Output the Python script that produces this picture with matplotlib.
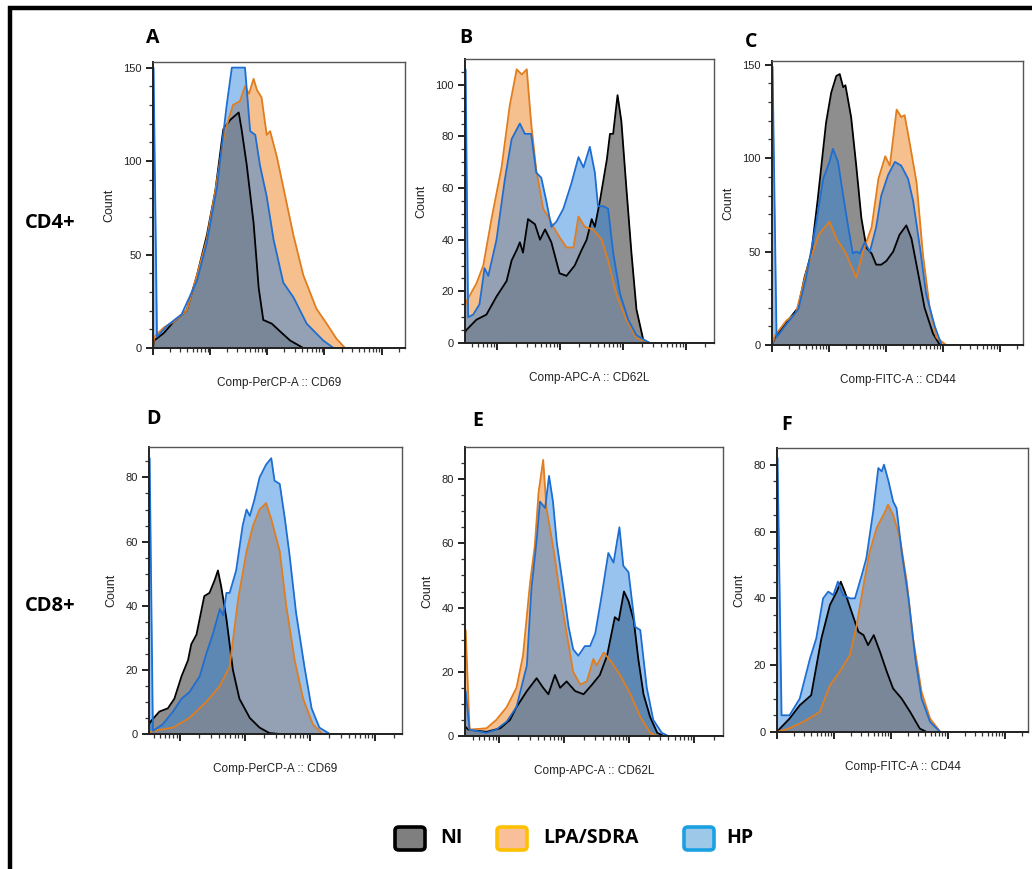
import matplotlib
matplotlib.use("Agg")
import matplotlib.pyplot as plt
import numpy as np
from matplotlib.patches import FancyBboxPatch, Rectangle

# x in decades of the (compensated) fluorescence axis, y = event count
# ---- A: CD4+ CD69
A_NI_X = [0.0, 0.02, 0.19, 0.36, 0.59, 0.77, 0.94, 1.09, 1.23, 1.35, 1.5, 1.55, 1.64, 1.76, 1.85, 1.93, 2.08, 2.22, 2.4, 2.63, 4.41]
A_NI_Y = [0, 4, 8, 14, 20, 39, 60, 84, 117, 122, 126, 117, 98, 67, 32, 15, 13, 9, 4, 0, 0]
A_LPA_X = [0.0, 0.02, 0.19, 0.36, 0.59, 0.77, 0.94, 1.09, 1.25, 1.4, 1.52, 1.61, 1.68, 1.76, 1.82, 1.9, 1.99, 2.05, 2.17, 2.28, 2.46, 2.63, 2.86, 3.04, 3.21, 3.36, 4.41]
A_LPA_Y = [0, 6, 11, 14, 20, 39, 58, 84, 115, 130, 132, 140, 136, 144, 138, 134, 114, 116, 102, 86, 60, 39, 21, 13, 5, 0, 0]
A_HP_X = [0.0, 0.01, 0.07, 0.25, 0.5, 0.77, 0.94, 1.12, 1.29, 1.38, 1.61, 1.7, 1.79, 1.87, 1.99, 2.11, 2.28, 2.46, 2.69, 2.98, 3.16, 4.41]
A_HP_Y = [150, 150, 6, 12, 18, 36, 56, 86, 130, 150, 150, 116, 114, 98, 81, 58, 35, 27, 13, 4, 0, 0]

# ---- B: CD4+ CD62L
B_NI_X = [0.49, 0.51, 0.67, 0.83, 0.99, 1.15, 1.23, 1.31, 1.36, 1.41, 1.49, 1.6, 1.68, 1.76, 1.86, 1.99, 2.1, 2.23, 2.34, 2.42, 2.5, 2.55, 2.63, 2.74, 2.79, 2.84, 2.91, 2.97, 3.05, 3.13, 3.21, 3.32, 3.42, 4.44]
B_NI_Y = [4, 5, 9, 11, 18, 24, 32, 36, 39, 35, 48, 46, 40, 44, 39, 27, 26, 30, 36, 40, 48, 45, 55, 71, 81, 81, 96, 86, 60, 35, 13, 1, 0, 0]
B_LPA_X = [0.49, 0.51, 0.67, 0.78, 0.91, 1.07, 1.2, 1.31, 1.39, 1.47, 1.54, 1.62, 1.73, 1.81, 1.89, 1.99, 2.1, 2.21, 2.29, 2.39, 2.52, 2.66, 2.76, 2.89, 3.05, 3.21, 3.42, 4.44]
B_LPA_Y = [14, 16, 23, 30, 48, 68, 92, 106, 104, 106, 85, 67, 52, 49, 45, 41, 37, 37, 49, 45, 44, 40, 32, 19, 9, 2, 0, 0]
B_HP_X = [0.49, 0.5, 0.54, 0.62, 0.72, 0.8, 0.86, 0.99, 1.12, 1.23, 1.36, 1.44, 1.54, 1.62, 1.7, 1.78, 1.86, 1.94, 2.05, 2.18, 2.29, 2.37, 2.47, 2.55, 2.6, 2.68, 2.76, 2.84, 2.95, 3.08, 3.21, 3.42, 4.44]
B_HP_Y = [106, 106, 10, 11, 15, 29, 26, 40, 63, 79, 85, 81, 81, 66, 64, 55, 45, 47, 52, 62, 72, 68, 76, 66, 53, 53, 52, 35, 19, 9, 3, 0, 0]

# ---- C: CD4+ CD44
C_NI_X = [0.0, 0.05, 0.25, 0.46, 0.57, 0.69, 0.8, 0.95, 1.04, 1.13, 1.19, 1.25, 1.29, 1.39, 1.48, 1.57, 1.66, 1.75, 1.83, 1.92, 2.01, 2.13, 2.24, 2.36, 2.45, 2.57, 2.68, 2.83, 2.95, 4.41]
C_NI_Y = [0, 4, 12, 20, 36, 49, 77, 119, 135, 144, 145, 138, 139, 122, 96, 68, 52, 49, 43, 43, 45, 50, 59, 64, 57, 38, 20, 6, 0, 0]
C_LPA_X = [0.0, 0.05, 0.25, 0.42, 0.62, 0.82, 1.01, 1.13, 1.3, 1.48, 1.6, 1.75, 1.87, 1.99, 2.07, 2.19, 2.27, 2.33, 2.42, 2.54, 2.65, 2.77, 2.89, 3.06, 4.41]
C_LPA_Y = [0, 5, 13, 17, 41, 59, 66, 57, 49, 36, 50, 63, 89, 101, 96, 126, 122, 123, 108, 87, 49, 20, 4, 0, 0]
C_HP_X = [0.0, 0.01, 0.08, 0.25, 0.46, 0.6, 0.78, 0.9, 1.01, 1.07, 1.16, 1.25, 1.34, 1.42, 1.48, 1.54, 1.63, 1.72, 1.83, 1.92, 2.04, 2.16, 2.27, 2.39, 2.48, 2.6, 2.71, 2.86, 2.98, 4.41]
C_HP_Y = [149, 149, 4, 11, 19, 36, 66, 89, 98, 105, 98, 80, 63, 49, 50, 49, 55, 50, 63, 80, 91, 98, 96, 89, 77, 52, 27, 10, 0, 0]

# ---- D: CD8+ CD69
D_NI_X = [0.53, 0.56, 0.69, 0.82, 0.92, 1.03, 1.13, 1.18, 1.26, 1.38, 1.46, 1.54, 1.59, 1.64, 1.72, 1.82, 1.92, 2.08, 2.23, 2.38, 2.54, 4.42]
D_NI_Y = [3, 4, 7, 8, 11, 18, 23, 28, 31, 43, 44, 48, 51, 46, 36, 20, 11, 5, 2, 0.3, 0, 0]
D_LPA_X = [0.53, 0.6, 0.9, 1.15, 1.41, 1.62, 1.77, 1.9, 2.03, 2.13, 2.23, 2.33, 2.41, 2.54, 2.64, 2.77, 2.9, 3.05, 3.2, 4.42]
D_LPA_Y = [0.5, 1, 2, 5, 10, 15, 21, 42, 57, 65, 70, 72, 67, 57, 40, 23, 11, 3, 0, 0]
D_HP_X = [0.53, 0.54, 0.59, 0.74, 0.9, 1.03, 1.15, 1.31, 1.41, 1.51, 1.62, 1.67, 1.72, 1.77, 1.87, 1.97, 2.03, 2.08, 2.15, 2.23, 2.33, 2.41, 2.46, 2.54, 2.62, 2.69, 2.79, 2.92, 3.03, 3.15, 3.31, 4.42]
D_HP_Y = [86, 86, 1, 3, 7, 11, 13, 18, 25, 31, 39, 37, 44, 44, 51, 65, 70, 68, 73, 80, 84, 86, 79, 78, 67, 56, 38, 21, 8, 2, 0, 0]

# ---- E: CD8+ CD62L
E_NI_X = [0.48, 0.53, 0.81, 1.02, 1.17, 1.27, 1.43, 1.58, 1.68, 1.76, 1.86, 1.94, 2.04, 2.17, 2.3, 2.43, 2.55, 2.66, 2.78, 2.84, 2.92, 2.99, 3.07, 3.14, 3.22, 3.32, 3.43, 3.53, 4.44]
E_NI_Y = [3, 2, 1.3, 2.4, 5, 9, 14, 18, 15, 13, 19, 15, 17, 14, 13, 16, 19, 25, 37, 36, 45, 42, 36, 24, 13, 6, 1, 0, 0]
E_LPA_X = [0.48, 0.49, 0.55, 0.81, 0.96, 1.12, 1.27, 1.37, 1.48, 1.55, 1.61, 1.68, 1.73, 1.84, 1.94, 2.04, 2.14, 2.25, 2.35, 2.45, 2.5, 2.61, 2.73, 2.86, 3.02, 3.17, 3.32, 3.43, 4.44]
E_LPA_Y = [33, 33, 2, 2.4, 5, 9, 15, 25, 48, 59, 76, 86, 71, 58, 44, 32, 20, 16, 17, 24, 22, 26, 23, 19, 13, 6, 1, 0, 0]
E_HP_X = [0.48, 0.49, 0.55, 0.81, 0.96, 1.12, 1.27, 1.43, 1.5, 1.58, 1.63, 1.71, 1.77, 1.83, 1.89, 1.99, 2.07, 2.14, 2.22, 2.32, 2.4, 2.48, 2.58, 2.68, 2.76, 2.85, 2.91, 2.99, 3.09, 3.17, 3.27, 3.37, 3.5, 3.6, 4.44]
E_HP_Y = [14, 14, 2, 1, 2, 4.5, 9, 22, 46, 61, 73, 71, 81, 73, 60, 46, 34, 27, 25, 28, 28, 32, 44, 57, 54, 65, 53, 51, 34, 33, 15, 5, 1, 0, 0]

# ---- F: CD8+ CD44
F_NI_X = [0.0, 0.05, 0.22, 0.4, 0.6, 0.78, 0.93, 1.05, 1.12, 1.19, 1.31, 1.43, 1.52, 1.6, 1.7, 1.81, 1.93, 2.04, 2.19, 2.34, 2.51, 2.63, 4.41]
F_NI_Y = [0, 1, 4, 8, 11, 28, 38, 42, 45, 42, 36, 30, 29, 26, 29, 24, 18, 13, 10, 6, 1, 0, 0]
F_LPA_X = [0.0, 0.2, 0.46, 0.75, 0.93, 1.1, 1.28, 1.4, 1.51, 1.63, 1.75, 1.9, 1.95, 2.04, 2.16, 2.28, 2.39, 2.54, 2.69, 2.87, 4.41]
F_LPA_Y = [0, 1, 3, 6, 14, 18, 23, 32, 43, 54, 61, 66, 68, 65, 58, 45, 28, 12, 4, 0, 0]
F_HP_X = [0.0, 0.01, 0.08, 0.22, 0.4, 0.58, 0.69, 0.81, 0.9, 0.99, 1.07, 1.16, 1.28, 1.37, 1.49, 1.57, 1.69, 1.78, 1.84, 1.88, 1.96, 2.04, 2.1, 2.19, 2.31, 2.43, 2.54, 2.69, 2.87, 4.41]
F_HP_Y = [82, 82, 5, 5, 10, 22, 28, 40, 42, 41, 45, 41, 40, 40, 47, 52, 66, 79, 78, 80, 75, 69, 67, 54, 40, 22, 10, 3, 0, 0]

PANELS = ["A", "B", "C", "D", "E", "F"]
XLABELS = ["Comp-PerCP-A :: CD69", "Comp-APC-A :: CD62L", "Comp-FITC-A :: CD44",
           "Comp-PerCP-A :: CD69", "Comp-APC-A :: CD62L", "Comp-FITC-A :: CD44"]
XLIMS = [(0, 4.41), (0.49, 4.44), (0, 4.41), (0.53, 4.42), (0.48, 4.44), (0, 4.41)]
YLIMS = [153, 110, 152, 89.5, 90, 85]
YMAJOR = [50, 20, 50, 20, 20, 20]
YMINOR = [10, 5, 10, 5, 5, 5]
ROW_LABELS = ["CD4+", "CD8+"]
GROUPS = ["NI", "LPA/SDRA", "HP"]

DATA = {
    "A": [(A_NI_X, A_NI_Y), (A_LPA_X, A_LPA_Y), (A_HP_X, A_HP_Y)],
    "B": [(B_NI_X, B_NI_Y), (B_LPA_X, B_LPA_Y), (B_HP_X, B_HP_Y)],
    "C": [(C_NI_X, C_NI_Y), (C_LPA_X, C_LPA_Y), (C_HP_X, C_HP_Y)],
    "D": [(D_NI_X, D_NI_Y), (D_LPA_X, D_LPA_Y), (D_HP_X, D_HP_Y)],
    "E": [(E_NI_X, E_NI_Y), (E_LPA_X, E_LPA_Y), (E_HP_X, E_HP_Y)],
    "F": [(F_NI_X, F_NI_Y), (F_LPA_X, F_LPA_Y), (F_HP_X, F_HP_Y)],
}

# fill colour, alpha, edge colour per group (drawn in this order)
FILL = [("#1e1e1e", 0.5), ("#f08c32", 0.55), ("#2a82de", 0.48)]
EDGE = ["#000000", "#e07d1e", "#1e6ed2"]
LEG_FACE = ["#7f7f7f", "#f8bf98", "#9dc8e8"]
LEG_EDGE = ["#000000", "#ffc000", "#1ba1e2"]

W, H = 1032, 869
# axes boxes in pixels: left, top, right, bottom
BOXES = [(153, 62, 405, 348), (465, 59, 714, 343), (772, 61, 1023, 345),
         (149, 447, 402, 734), (465, 447, 723, 736), (777, 448, 1028, 732)]
LETTER_POS = [(146, 38), (459, 38), (745, 42), (146, 419), (472, 421), (781, 425)]

TICK_FONT = ["Liberation Sans", "DejaVu Sans"]
BOLD_FONT = ["Open Sans", "DejaVu Sans"]

fig = plt.figure(figsize=(W / 100, H / 100), dpi=100)

for i, p in enumerate(PANELS):
    l, t, r, b = BOXES[i]
    ax = fig.add_axes([l / W, 1 - b / H, (r - l) / W, (b - t) / H])
    for k, (xs, ys) in enumerate(DATA[p]):
        c, a = FILL[k]
        ax.fill_between(xs, ys, 0, color=c, alpha=a, lw=0)
        ax.plot(xs, ys, color=EDGE[k], lw=1.3, solid_joinstyle="round")
    x0, x1 = XLIMS[i]
    ax.set_xlim(x0, x1)
    ax.set_ylim(0, YLIMS[i])
    majors = [d for d in range(0, 5) if x0 - 1e-6 <= d <= x1]
    minors = [d + np.log10(m) for d in range(0, 5) for m in range(2, 10)
              if x0 <= d + np.log10(m) <= x1]
    ax.set_xticks(majors)
    ax.set_xticks(minors, minor=True)
    ax.set_xticklabels([])
    ax.set_yticks(np.arange(0, YLIMS[i], YMAJOR[i]))
    ax.set_yticks(np.arange(0, YLIMS[i], YMINOR[i]), minor=True)
    ax.tick_params(axis="both", which="major", direction="out", length=5,
                   width=1.4, color="#222222", labelsize=8, pad=3)
    ax.tick_params(axis="both", which="minor", direction="out", length=3,
                   width=0.9, color="#333333")
    for lab in ax.get_yticklabels():
        lab.set_family(TICK_FONT)
        lab.set_color("#222222")
    for s in ["top", "right"]:
        ax.spines[s].set_color("#555555")
        ax.spines[s].set_linewidth(1.0)
    for s in ["left", "bottom"]:
        ax.spines[s].set_color("#222222")
        ax.spines[s].set_linewidth(1.4)
    ax.set_ylabel("Count", family=TICK_FONT, fontsize=9, color="#222222", labelpad=6)
    ax.set_xlabel(XLABELS[i], family=TICK_FONT, fontsize=8.5, color="#222222", labelpad=13)
    lx, ly = LETTER_POS[i]
    fig.text(lx / W, 1 - ly / H, p, family=BOLD_FONT, fontweight="bold",
             fontsize=14, va="center", ha="left")

fig.text(25 / W, 1 - 223 / H, ROW_LABELS[0], family=BOLD_FONT, fontweight="bold",
         fontsize=14.5, va="center", ha="left")
fig.text(25 / W, 1 - 606 / H, ROW_LABELS[1], family=BOLD_FONT, fontweight="bold",
         fontsize=14.5, va="center", ha="left")

# legend boxes
LEG_BOX_X = [395, 497, 684]
LEG_TEXT_X = [440, 543, 726]
for k, g in enumerate(GROUPS):
    bx = LEG_BOX_X[k]
    patch = FancyBboxPatch((bx / W, 1 - 850 / H), 30 / W, 23 / H,
                           boxstyle="round,pad=0,rounding_size=0.004",
                           transform=fig.transFigure, facecolor=LEG_FACE[k],
                           edgecolor=LEG_EDGE[k], linewidth=2.6)
    fig.add_artist(patch)
    fig.text(LEG_TEXT_X[k] / W, 1 - 838 / H, g, family=BOLD_FONT, fontweight="bold",
             fontsize=14, va="center", ha="left")

# outer frame (left and top edges visible)
fig.add_artist(Rectangle((10 / W, -0.05), 1.2, 1.05 - 8 / H, transform=fig.transFigure,
                         fill=False, edgecolor="black", linewidth=3.2, clip_on=False))

fig.savefig("out.png", dpi=100)
